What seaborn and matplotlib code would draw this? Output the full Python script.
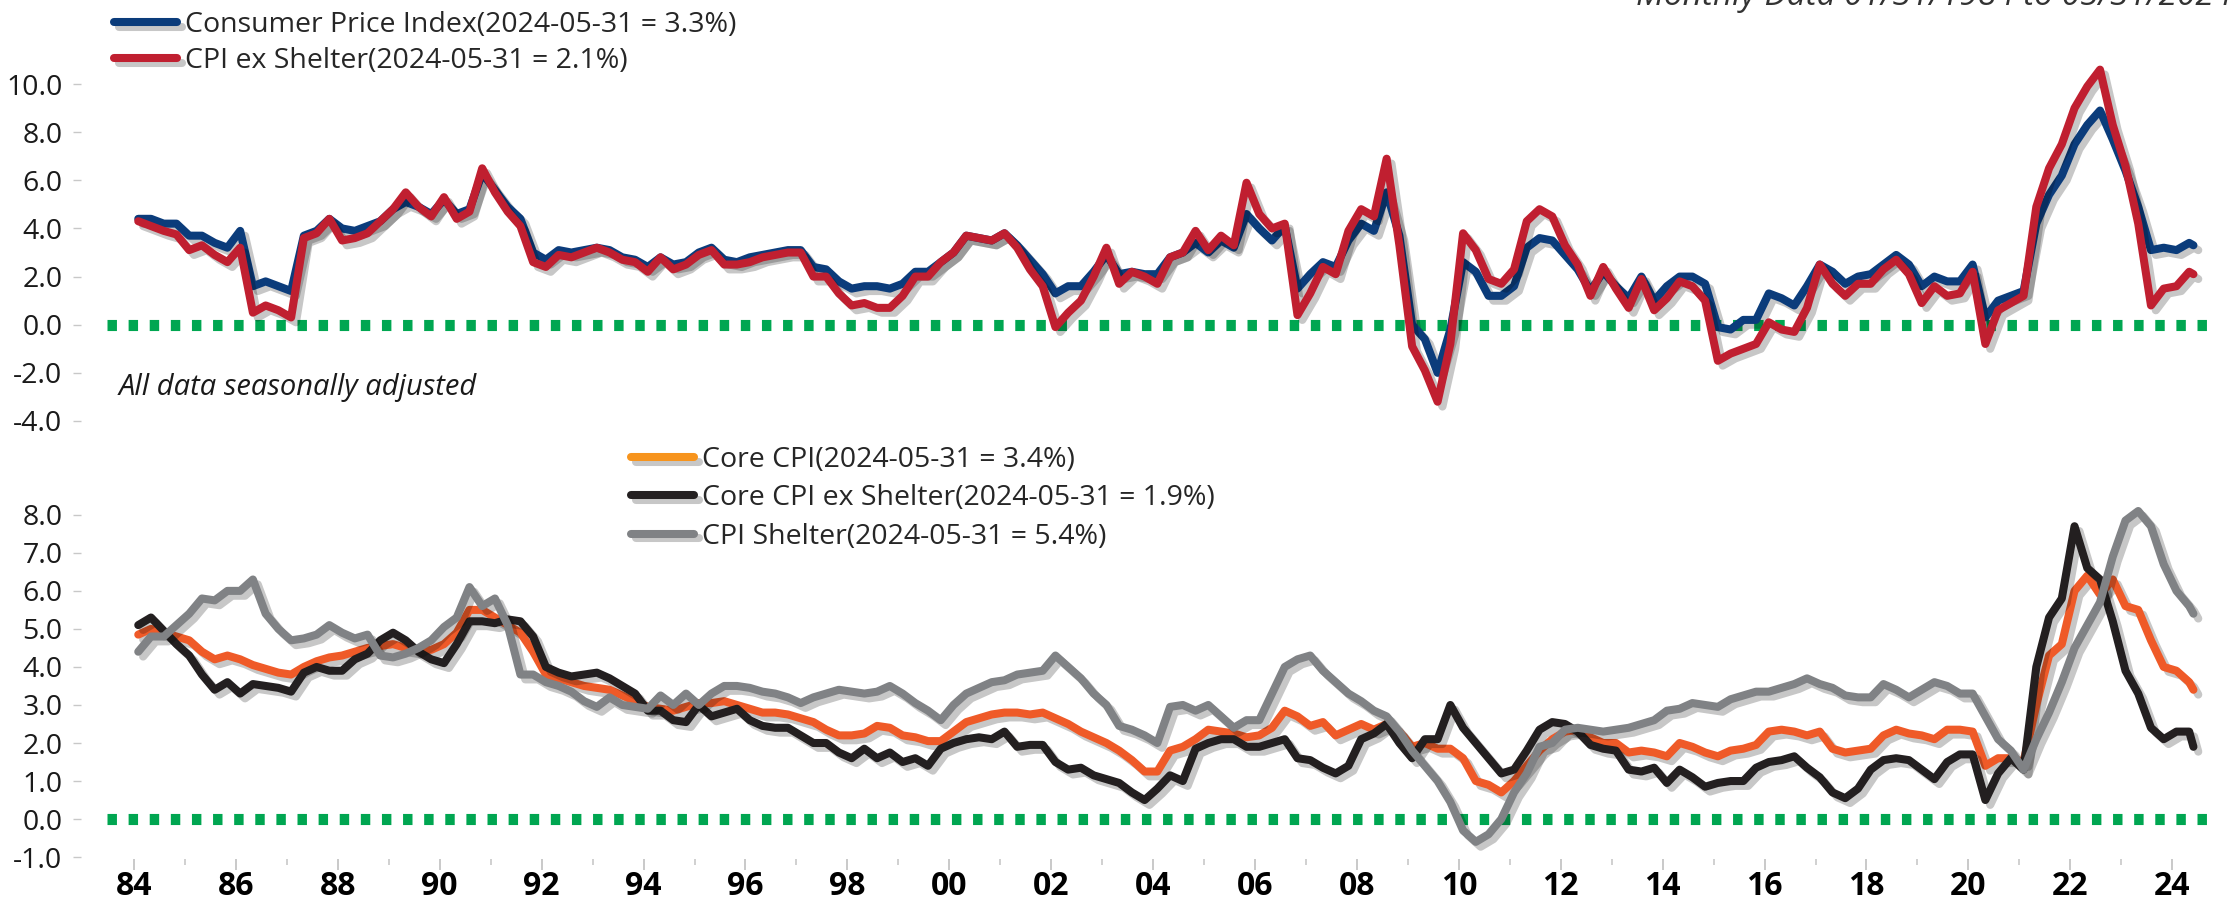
import numpy as np
import matplotlib
matplotlib.use("Agg")
import matplotlib.pyplot as plt
import matplotlib.patheffects as pe
from matplotlib.ticker import FormatStrFormatter
import seaborn as sns

# Quarterly readings (Jan, Apr, Jul, Oct month-ends), 1984 .. Apr 2024, plus May 2024
cpi = [
    4.4, 4.4, 4.2, 4.2,  3.7, 3.7, 3.4, 3.2,  3.9, 1.6, 1.8, 1.6,  1.4, 3.7, 3.9, 4.4,
    4.0, 3.9, 4.1, 4.3,  4.8, 5.1, 4.9, 4.6,  5.2, 4.6, 4.8, 6.3,  5.6, 4.9, 4.4, 3.0,
    2.7, 3.1, 3.0, 3.1,  3.2, 3.1, 2.8, 2.7,  2.4, 2.8, 2.5, 2.6,  3.0, 3.2, 2.7, 2.6,
    2.8, 2.9, 3.0, 3.1,  3.1, 2.4, 2.3, 1.8,  1.5, 1.6, 1.6, 1.5,  1.7, 2.2, 2.2, 2.6,
    3.0, 3.7, 3.6, 3.5,  3.8, 3.3, 2.7, 2.1,  1.3, 1.6, 1.6, 2.2,  2.9, 2.1, 2.2, 2.1,
    2.1, 2.8, 3.0, 3.4,  3.0, 3.5, 3.2, 4.6,  4.0, 3.5, 4.1, 1.5,  2.1, 2.6, 2.4, 3.5,
    4.2, 3.9, 5.5, 3.7,  0.0, -0.6, -2.0, -0.2,  2.6, 2.2, 1.2, 1.2,  1.6, 3.2, 3.6, 3.5,
    2.9, 2.3, 1.4, 2.2,  1.6, 1.1, 2.0, 1.0,  1.6, 2.0, 2.0, 1.7,  -0.1, -0.2, 0.2, 0.2,
    1.3, 1.1, 0.8, 1.6,  2.5, 2.2, 1.7, 2.0,  2.1, 2.5, 2.9, 2.5,  1.6, 2.0, 1.8, 1.8,
    2.5, 0.3, 1.0, 1.2,  1.4, 4.2, 5.4, 6.2,  7.5, 8.3, 8.9, 7.7,  6.4, 4.9, 3.1, 3.2,
    3.1, 3.4, 3.3,
]
cpi_ex_shelter = [
    4.3, 4.1, 3.9, 3.75,  3.1, 3.3, 2.9, 2.6,  3.2, 0.5, 0.8, 0.6,  0.3, 3.6, 3.8, 4.4,
    3.5, 3.6, 3.8, 4.3,  4.8, 5.5, 4.9, 4.5,  5.3, 4.4, 4.7, 6.5,  5.5, 4.7, 4.1, 2.6,
    2.4, 2.9, 2.8, 3.0,  3.2, 3.0, 2.7, 2.6,  2.2, 2.8, 2.3, 2.5,  2.9, 3.1, 2.5, 2.5,
    2.6, 2.8, 2.9, 3.0,  3.0, 2.0, 2.0, 1.3,  0.8, 0.9, 0.7, 0.7,  1.2, 2.0, 2.0, 2.6,
    3.0, 3.7, 3.6, 3.5,  3.8, 3.2, 2.3, 1.6,  -0.1, 0.5, 1.0, 2.0,  3.2, 1.7, 2.2, 2.0,
    1.7, 2.8, 3.0, 3.9,  3.1, 3.7, 3.3, 5.9,  4.6, 4.0, 4.2, 0.4,  1.3, 2.4, 2.1, 3.9,
    4.8, 4.5, 6.9, 3.3,  -0.9, -1.9, -3.2, -0.8,  3.8, 3.1, 1.9, 1.7,  2.3, 4.3, 4.8, 4.5,
    3.3, 2.5, 1.2, 2.4,  1.5, 0.7, 1.9, 0.6,  1.1, 1.8, 1.6, 1.0,  -1.5, -1.2, -1.0, -0.8,
    0.1, -0.2, -0.3, 0.7,  2.5, 1.7, 1.2, 1.7,  1.7, 2.3, 2.7, 2.1,  0.9, 1.6, 1.2, 1.3,
    2.2, -0.8, 0.6, 0.9,  1.2, 4.9, 6.5, 7.5,  9.0, 9.9, 10.6, 8.3,  6.6, 4.2, 0.8, 1.5,
    1.6, 2.2, 2.1,
]
core_cpi = [
    4.85, 5.0, 4.9, 4.8,  4.7, 4.4, 4.2, 4.3,  4.2, 4.05, 3.95, 3.85,  3.8, 4.0, 4.15, 4.25,
    4.3, 4.4, 4.5, 4.55,  4.6, 4.5, 4.45, 4.45,  4.6, 4.9, 5.5, 5.5,  5.3, 5.1, 4.9, 4.4,
    3.8, 3.7, 3.6, 3.5,  3.45, 3.4, 3.25, 3.1,  2.95, 2.9, 2.85, 2.95,  3.05, 3.05, 3.1, 3.0,
    2.9, 2.8, 2.8, 2.75,  2.65, 2.55, 2.35, 2.2,  2.2, 2.25, 2.45, 2.4,  2.2, 2.15, 2.05, 2.05,
    2.3, 2.55, 2.65, 2.75,  2.8, 2.8, 2.75, 2.8,  2.65, 2.5, 2.3, 2.15,  2.0, 1.8, 1.55, 1.25,
    1.25, 1.8, 1.9, 2.1,  2.35, 2.3, 2.25, 2.15,  2.2, 2.4, 2.85, 2.7,  2.45, 2.55, 2.2, 2.35,
    2.5, 2.35, 2.5, 2.3,  1.9, 2.0, 1.85, 1.85,  1.6, 1.0, 0.9, 0.7,  1.0, 1.4, 1.8, 2.1,
    2.3, 2.35, 2.15, 2.0,  2.0, 1.75, 1.8, 1.75,  1.65, 2.0, 1.9, 1.75,  1.65, 1.8, 1.85, 1.95,
    2.3, 2.35, 2.3, 2.2,  2.3, 1.85, 1.75, 1.8,  1.85, 2.2, 2.35, 2.25,  2.2, 2.1, 2.35, 2.35,
    2.3, 1.4, 1.6, 1.6,  1.5, 3.0, 4.3, 4.6,  6.0, 6.4, 5.9, 6.3,  5.6, 5.5, 4.7, 4.0,
    3.9, 3.6, 3.4,
]
core_ex_shelter = [
    5.1, 5.3, 4.95, 4.6,  4.3, 3.8, 3.4, 3.6,  3.3, 3.55, 3.5, 3.45,  3.35, 3.85, 4.0, 3.9,
    3.9, 4.2, 4.35, 4.7,  4.9, 4.7, 4.4, 4.2,  4.1, 4.6, 5.2, 5.2,  5.15, 5.25, 5.2, 4.8,
    4.0, 3.85, 3.75, 3.8,  3.85, 3.7, 3.5, 3.3,  2.85, 2.85, 2.6, 2.55,  3.0, 2.7, 2.8, 2.9,
    2.6, 2.45, 2.4, 2.4,  2.2, 2.0, 2.0, 1.75,  1.6, 1.85, 1.6, 1.75,  1.5, 1.6, 1.4, 1.85,
    2.0, 2.1, 2.15, 2.1,  2.3, 1.9, 1.95, 1.95,  1.5, 1.3, 1.35, 1.15,  1.05, 0.95, 0.7, 0.5,
    0.8, 1.15, 1.0, 1.85,  2.0, 2.1, 2.1, 1.9,  1.9, 2.0, 2.1, 1.6,  1.55, 1.35, 1.2, 1.4,
    2.1, 2.25, 2.5, 2.0,  1.6, 2.1, 2.1, 3.0,  2.4, 2.0, 1.6, 1.2,  1.3, 1.8, 2.35, 2.55,
    2.5, 2.3, 1.95, 1.85,  1.8, 1.3, 1.25, 1.35,  0.95, 1.3, 1.1, 0.85,  0.95, 1.0, 1.0, 1.35,
    1.5, 1.55, 1.65, 1.35,  1.1, 0.7, 0.55, 0.8,  1.3, 1.55, 1.6, 1.55,  1.3, 1.05, 1.5, 1.7,
    1.7, 0.5, 1.2, 1.6,  1.3, 4.0, 5.3, 5.8,  7.7, 6.6, 6.3, 5.2,  3.9, 3.3, 2.4, 2.1,
    2.3, 2.3, 1.9,
]
cpi_shelter = [
    4.4, 4.8, 4.8, 5.1,  5.4, 5.8, 5.75, 6.0,  6.0, 6.3, 5.4, 5.0,  4.7, 4.75, 4.85, 5.1,
    4.9, 4.75, 4.85, 4.3,  4.25, 4.35, 4.5, 4.7,  5.05, 5.3, 6.1, 5.6,  5.8, 5.1, 3.8, 3.8,
    3.6, 3.5, 3.35, 3.1,  2.95, 3.2, 3.0, 2.95,  2.9, 3.25, 3.0, 3.3,  3.0, 3.3, 3.5, 3.5,
    3.45, 3.35, 3.3, 3.2,  3.05, 3.2, 3.3, 3.4,  3.35, 3.3, 3.35, 3.5,  3.3, 3.05, 2.85, 2.6,
    3.0, 3.3, 3.45, 3.6,  3.65, 3.8, 3.85, 3.9,  4.3, 4.0, 3.7, 3.3,  3.0, 2.45, 2.35, 2.2,
    2.0, 2.95, 3.0, 2.85,  3.0, 2.7, 2.4, 2.6,  2.6, 3.3, 4.0, 4.2,  4.3, 3.9, 3.6, 3.3,
    3.1, 2.85, 2.7, 2.3,  1.8, 1.4, 1.0, 0.45,  -0.3, -0.6, -0.4, 0.0,  0.7, 1.2, 1.9, 2.0,
    2.35, 2.4, 2.35, 2.3,  2.35, 2.4, 2.5, 2.6,  2.85, 2.9, 3.05, 3.0,  2.95, 3.15, 3.25, 3.35,
    3.35, 3.45, 3.55, 3.7,  3.55, 3.45, 3.25, 3.2,  3.2, 3.55, 3.4, 3.2,  3.4, 3.6, 3.5, 3.3,
    3.3, 2.7, 2.1, 1.8,  1.3, 2.1, 2.8, 3.6,  4.5, 5.1, 5.7, 6.9,  7.85, 8.1, 7.7, 6.7,
    6.0, 5.6, 5.4,
]

# month-end positions in decimal years
dates = np.append(1984 + (np.arange(162) * 3 + 1) / 12, 2024 + 5 / 12)

top_series = [
    (cpi, "#0b3c7b", "Consumer Price Index(2024-05-31 = 3.3%)"),
    (cpi_ex_shelter, "#c01f30", "CPI ex Shelter(2024-05-31 = 2.1%)"),
]
bottom_series = [
    (core_cpi, "#ef5a28", "Core CPI(2024-05-31 = 3.4%)"),
    (core_ex_shelter, "#231f20", "Core CPI ex Shelter(2024-05-31 = 1.9%)"),
    (cpi_shelter, "#808285", "CPI Shelter(2024-05-31 = 5.4%)"),
]

sns.set_style("white")
plt.rcParams["font.family"] = ["Open Sans", "DejaVu Sans"]
plt.rcParams["axes.unicode_minus"] = False

W, H = 2234, 907
fig = plt.figure(figsize=(W / 100, H / 100), dpi=100)


def px_axes(left, top, right, bottom):
    return fig.add_axes([left / W, 1 - bottom / H, (right - left) / W, (bottom - top) / H])


ax_top = px_axes(107, 60, 2215, 433)
ax_bot = px_axes(107, 492, 2215, 859)

shadow = [pe.SimpleLineShadow(offset=(3.5, -3.5), shadow_color="black", alpha=0.22), pe.Normal()]


def draw(ax, values, color, label):
    sns.lineplot(x=dates, y=values, ax=ax, color=color, linewidth=5.8, label=label)
    line = ax.get_lines()[-1]
    line.set_path_effects(shadow)
    line.set_solid_joinstyle("round")
    line.set_solid_capstyle("round")


for ax in (ax_top, ax_bot):
    ax.set_xlim(1983.47, 2024.84)
    ax.axhline(0, color="#00a651", lw=8, dashes=(0.85, 1.05), dash_capstyle="butt", zorder=1)
    for side in ax.spines:
        ax.spines[side].set_visible(False)
    ax.spines["left"].set_position(("outward", 19))
    ax.tick_params(axis="y", left=True, length=6, width=1, color="#c8c8c8", pad=7,
                   labelsize=20.5, labelcolor="#1a1a1a")
    ax.yaxis.set_major_formatter(FormatStrFormatter("%.1f"))

for values, color, label in top_series:
    draw(ax_top, values, color, label)
for values, color, label in bottom_series:
    draw(ax_bot, values, color, label)

# top panel
ax_top.set_ylim(-4.5, 11.0)
ax_top.set_yticks(np.arange(-4, 11, 2))
ax_top.tick_params(axis="x", bottom=False, labelbottom=False)

# bottom panel
ax_bot.set_ylim(-1.05, 8.6)
ax_bot.set_yticks(np.arange(-1, 9, 1))
years = np.arange(1984, 2025, 2)
ax_bot.set_xticks(years, [f"{y % 100:02d}" for y in years], fontweight="bold")
ax_bot.set_xticks(np.arange(1985, 2025, 2), minor=True)
ax_bot.tick_params(axis="x", which="major", bottom=True, length=8, width=1.2, color="#c0c0c0",
                   pad=0, labelsize=23, labelcolor="black")
ax_bot.tick_params(axis="x", which="minor", bottom=True, length=4, width=1.2, color="#c8c8c8")

for ax in (ax_top, ax_bot):
    ax.set_xlabel("")
    ax.set_ylabel("")

leg_kw = dict(loc="upper left", bbox_transform=fig.transFigure, frameon=False, fontsize=20.5,
              handlelength=2.2, handletextpad=0.3, borderpad=0, borderaxespad=0)
ax_top.legend(bbox_to_anchor=(114 / W, 1 - 11 / H), labelspacing=0.27, **leg_kw)
leg_bot = ax_bot.legend(bbox_to_anchor=(631 / W, 1 - 446 / H), labelspacing=0.36, **leg_kw)
leg_bot.get_lines()[0].set_color("#f7941d")

fig.text(119 / W, 1 - 388 / H, "All data seasonally adjusted", style="italic", fontsize=21,
         va="center", ha="left", color="#1a1a1a")
fig.text(2232 / W, 1 - 5 / H, "Monthly Data 01/31/1984 to 05/31/2024", style="italic",
         fontsize=24, va="baseline", ha="right", color="#333333")

fig.savefig("out.png", dpi=100)
